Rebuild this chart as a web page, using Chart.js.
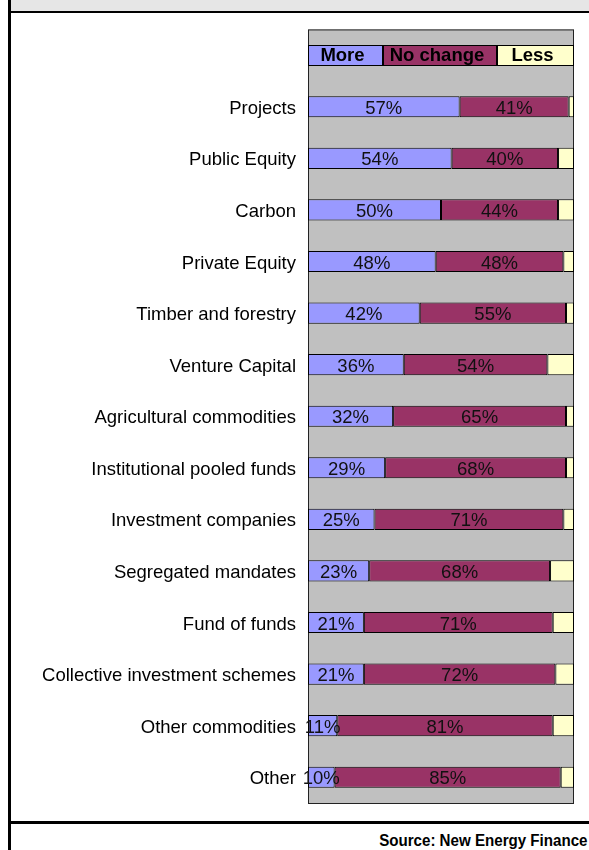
<!DOCTYPE html>
<html>
<head>
<meta charset="utf-8">
<script src="https://cdn.jsdelivr.net/npm/chart.js@4.4.1/dist/chart.umd.min.js"></script>
<style>
  html, body { margin: 0; padding: 0; background: #fff; }
  #page { position: relative; width: 589px; height: 850px; overflow: hidden; }
  #cap { position: absolute; left: 11px; top: 0; width: 578px; height: 11px; background: #e6e6e6; border-bottom: 2px solid #000; }
  #edge { position: absolute; left: 8px; top: 0; width: 3px; height: 850px; background: #000; }
  #foot { position: absolute; left: 11px; top: 821px; width: 578px; height: 3px; background: #000; }
  #src { position: absolute; right: 1px; top: 832px; line-height: 16px; white-space: nowrap;
         font: bold 16px "Liberation Sans", Arial, sans-serif; color: #000;
         transform: scaleX(0.945); transform-origin: right center; }
  #grafico { position: absolute; left: 0; top: 0; }
</style>
</head>
<body>
<div id="page">
  <div id="cap"></div>
  <div id="edge"></div>
  <div id="foot"></div>
  <div id="src">Source: New Energy Finance</div>
  <canvas id="grafico" width="589" height="850"></canvas>
</div>
<script>
// categories, top to bottom
const categories = [
  'Projects',
  'Public Equity',
  'Carbon',
  'Private Equity',
  'Timber and forestry',
  'Venture Capital',
  'Agricultural commodities',
  'Institutional pooled funds',
  'Investment companies',
  'Segregated mandates',
  'Fund of funds',
  'Collective investment schemes',
  'Other commodities',
  'Other'
];

// share of answers, %
const more     = [57, 54, 50, 48, 42, 36, 32, 29, 25, 23, 21, 21, 11, 10];
const noChange = [41, 40, 44, 48, 55, 54, 65, 68, 71, 68, 71, 72, 81, 85];
const less     = [ 2,  6,  6,  4,  3, 10,  3,  3,  4,  9,  8,  7,  8,  5];

const seriesNames = ['More', 'No change', 'Less'];
const colours = ['#9999FF', '#993366', '#FFFFCC'];

const FONT = '"Liberation Sans", Arial, sans-serif';
Chart.defaults.font.family = FONT;
Chart.defaults.color = '#000';

// grey plot background plus the legend strip sitting in the slot above the first bar
const fundo = {
  id: 'fundo',
  beforeDatasetsDraw(chart) {
    const { ctx, chartArea: a } = chart;
    const slot = (a.bottom - a.top) / categories.length;
    const top = a.top - slot;
    ctx.save();
    ctx.fillStyle = '#C0C0C0';
    ctx.fillRect(a.left, top, a.right - a.left, a.bottom - top);
    ctx.strokeStyle = '#222';
    ctx.lineWidth = 1;
    ctx.strokeRect(a.left + 0.5, top + 0.5, a.right - a.left - 1, a.bottom - top);

    // legend boxes
    const parts = [0.282, 0.429, 0.289];
    const h = 20;
    const y0 = Math.round(top + slot / 2 - h / 2);
    let x = a.left;
    ctx.font = 'bold 18.5px ' + FONT;
    ctx.textAlign = 'center';
    ctx.textBaseline = 'middle';
    parts.forEach((p, i) => {
      const w = Math.round((a.right - a.left) * p);
      ctx.fillStyle = colours[i];
      ctx.fillRect(x, y0, w, h);
      ctx.strokeStyle = '#000';
      ctx.strokeRect(x + 0.5, y0 + 0.5, w - 1, h);
      ctx.fillStyle = '#000';
      ctx.fillText(seriesNames[i], x + w / 2 - 3, y0 + h / 2 + 1);
      x += w;
    });
    ctx.restore();
  }
};

// percentages written in the middle of the "More" and "No change" segments
const rotulos = {
  id: 'rotulos',
  afterDatasetsDraw(chart) {
    const { ctx } = chart;
    ctx.save();
    ctx.font = '18.5px ' + FONT;
    ctx.fillStyle = '#111';
    ctx.textAlign = 'center';
    ctx.textBaseline = 'middle';
    [0, 1].forEach(d => {
      chart.getDatasetMeta(d).data.forEach((bar, i) => {
        const v = chart.data.datasets[d].data[i];
        ctx.fillText(v + '%', (bar.base + bar.x) / 2, bar.y + 2);
      });
    });
    ctx.restore();
  }
};

const serie = (i, valores) => ({
  label: seriesNames[i],
  data: valores,
  backgroundColor: colours[i],
  borderColor: '#000',
  borderWidth: 1,
  borderSkipped: false,
  barPercentage: 0.41,
  categoryPercentage: 1
});

const grafico = new Chart(document.getElementById('grafico'), {
  type: 'bar',
  data: {
    labels: categories,
    datasets: [serie(0, more), serie(1, noChange), serie(2, less)]
  },
  options: {
    indexAxis: 'y',
    responsive: false,
    animation: false,
    layout: { padding: { top: 81, bottom: 47, left: 10, right: 15 } },
    scales: {
      x: { stacked: true, min: 0, max: 100, display: false },
      y: {
        stacked: true,
        grid: { display: false, drawTicks: false },
        border: { display: false },
        ticks: { color: '#000', padding: 12, labelOffset: 2, font: { size: 18.5 } },
        afterFit(scale) { scale.width = 298; }
      }
    },
    plugins: {
      legend: { display: false },
      tooltip: { enabled: false }
    }
  },
  plugins: [fundo, rotulos]
});
</script>
</body>
</html>
